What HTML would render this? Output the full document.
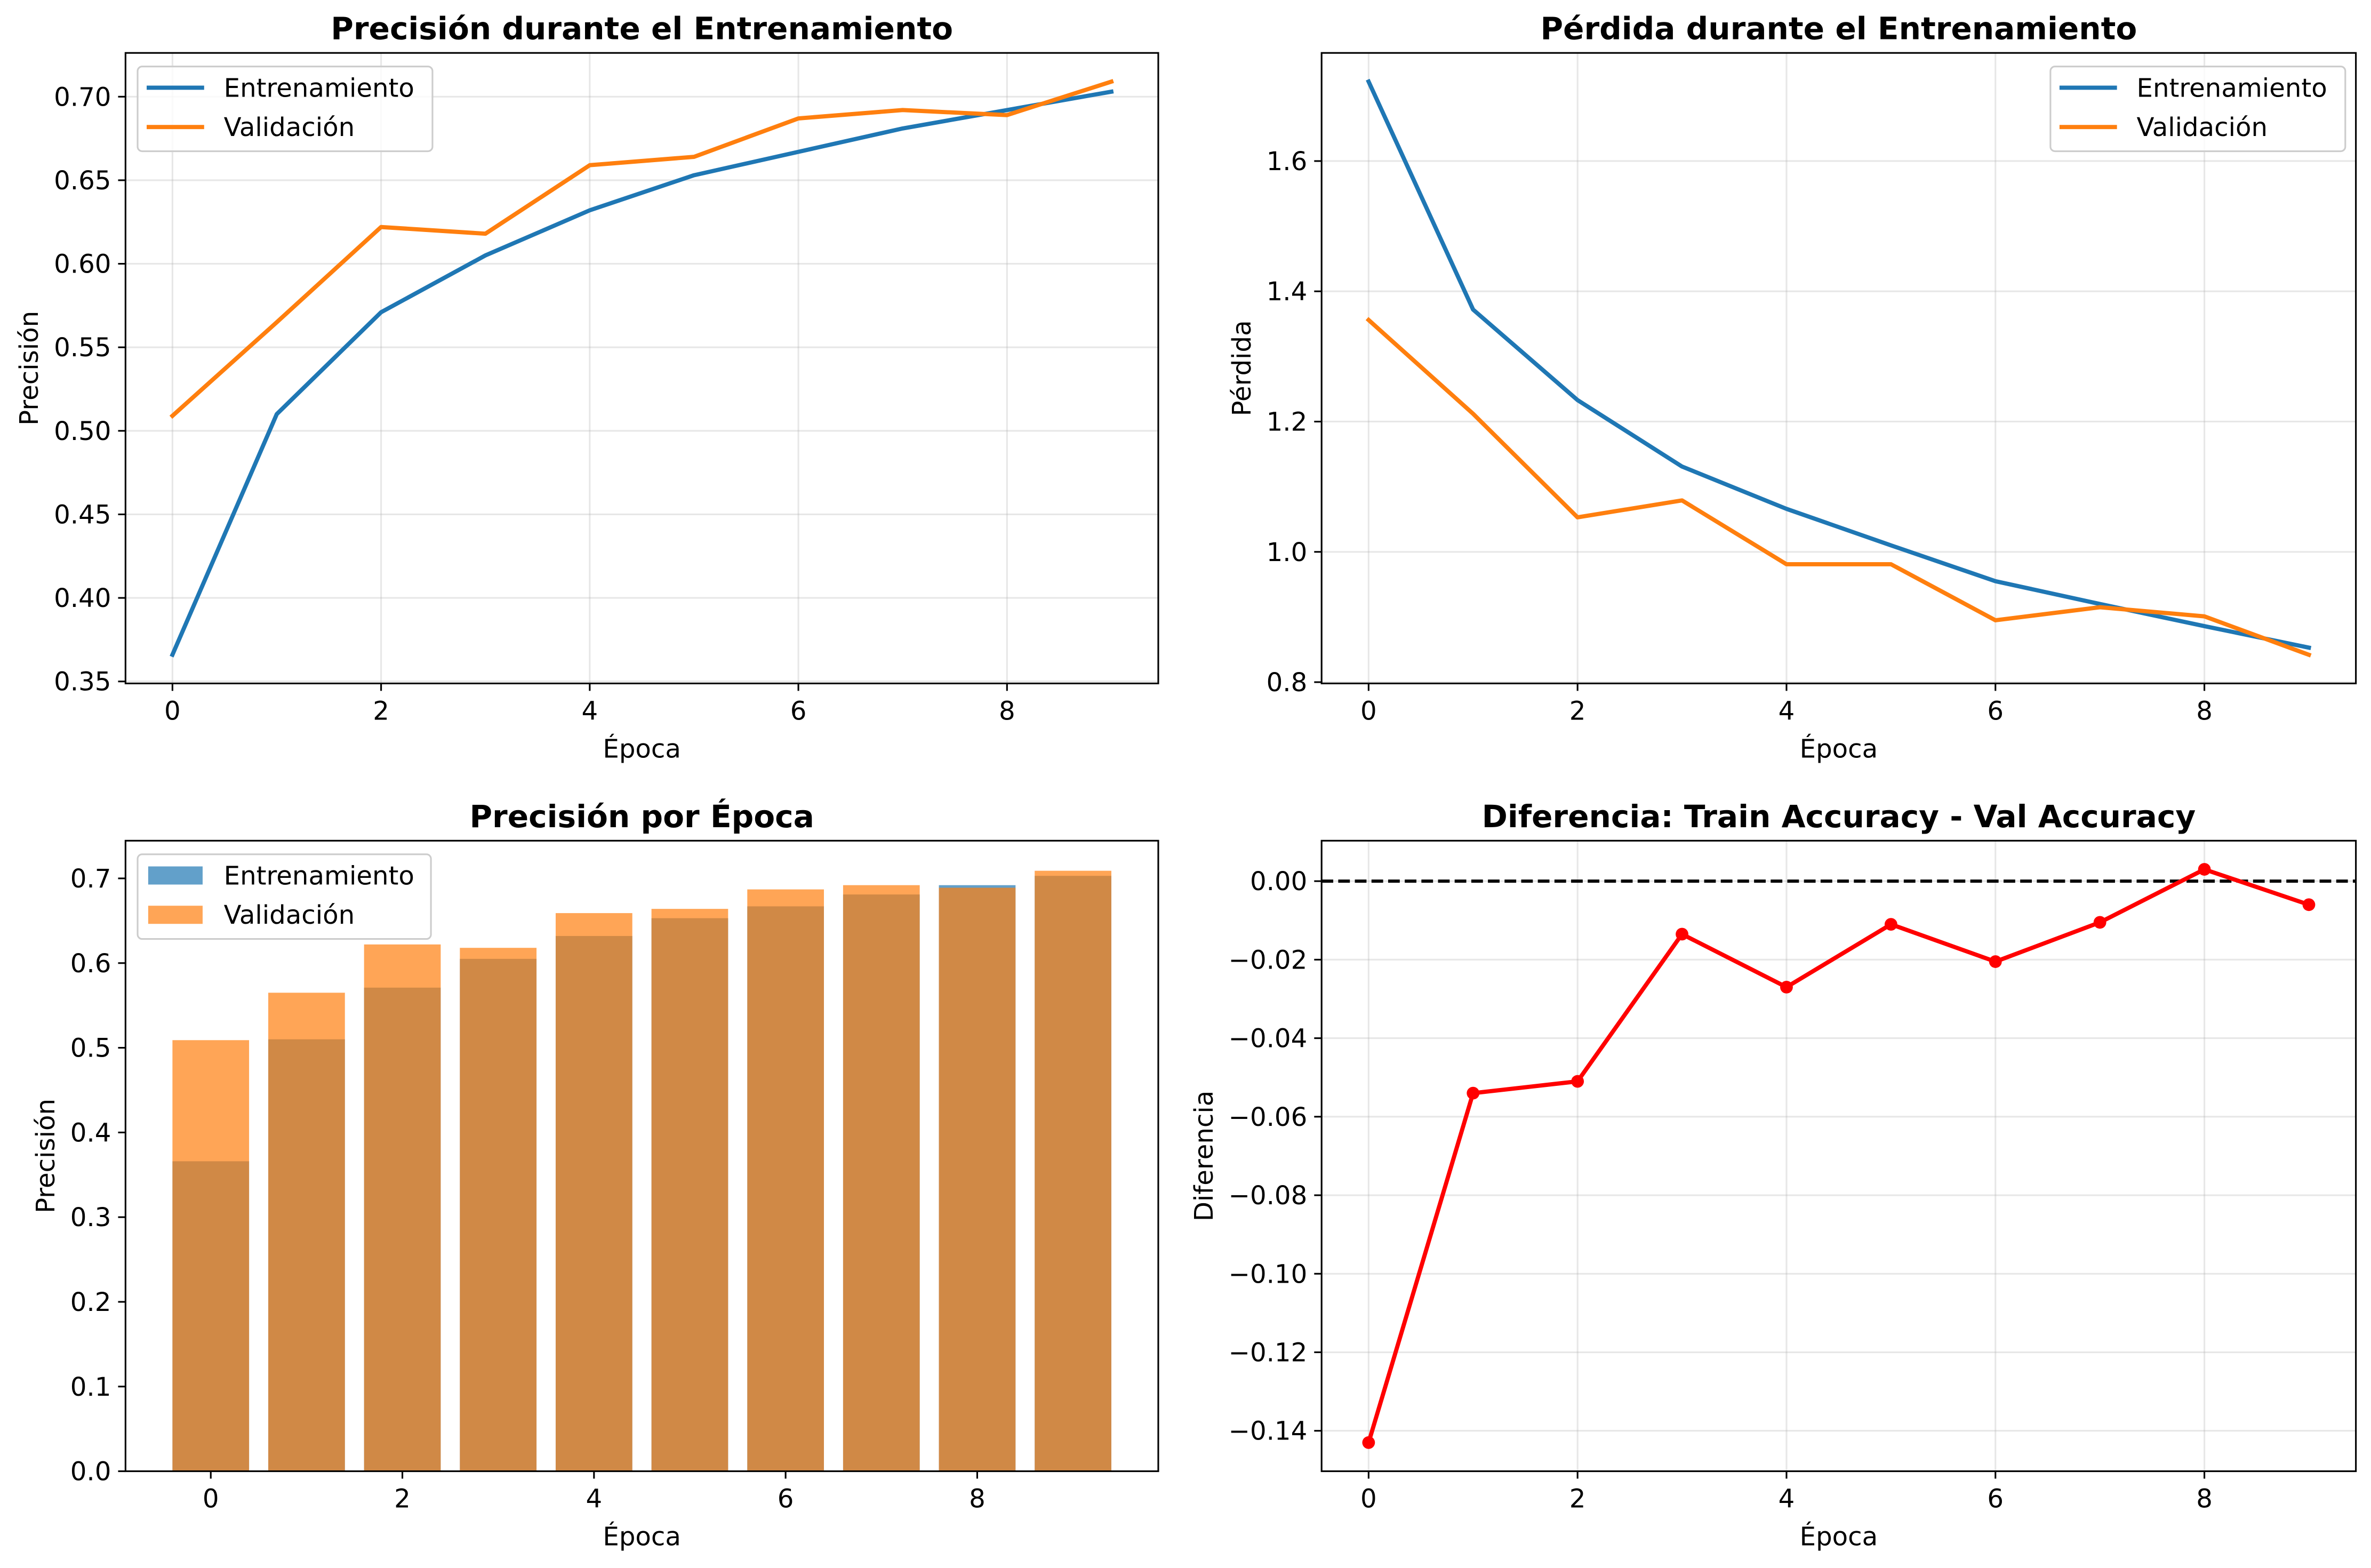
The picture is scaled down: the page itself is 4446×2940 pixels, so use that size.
<!DOCTYPE html>
<html><head><meta charset="utf-8"><style>
html,body{margin:0;padding:0;background:#fff;}
svg{display:block;}
text{font-family:"DejaVu Sans","Liberation Sans",sans-serif;fill:#000;}
</style></head><body>
<svg id="fig" width="4446" height="2940" viewBox="0 0 1568 1037" preserveAspectRatio="none" xmlns="http://www.w3.org/2000/svg">
<rect width="1568" height="1037" fill="#fff"/>
</svg>
<script>
const epochs = [0,1,2,3,4,5,6,7,8,9];
const trainAcc = [0.366,0.510,0.571,0.605,0.632,0.653,0.667,0.681,0.692,0.703];
const valAcc = [0.509,0.565,0.622,0.618,0.659,0.664,0.687,0.692,0.689,0.709];
const trainLoss = [1.722,1.372,1.233,1.131,1.066,1.010,0.955,0.920,0.886,0.853];
const valLoss = [1.356,1.212,1.053,1.079,0.981,0.981,0.895,0.915,0.901,0.842];
const diffAcc = [-0.143,-0.054,-0.051,-0.0135,-0.027,-0.011,-0.0205,-0.0105,0.003,-0.006];
const xTicks = [0,2,4,6,8];
const accTicks = [0.35,0.40,0.45,0.50,0.55,0.60,0.65,0.70];
const lossTicks = [0.8,1.0,1.2,1.4,1.6];
const barTicks = [0.0,0.1,0.2,0.3,0.4,0.5,0.6,0.7];
const diffTicks = [0.00,-0.02,-0.04,-0.06,-0.08,-0.10,-0.12,-0.14];

const NS='http://www.w3.org/2000/svg';
const svg=document.getElementById('fig');
const BLUE='#1f77b4', ORANGE='#ff7f0e';
const FS=17, TFS=20.5;
function mk(tag,attrs,parent){const e=document.createElementNS(NS,tag);for(const k in attrs)e.setAttribute(k,attrs[k]);(parent||svg).appendChild(e);return e;}
function txt(s,attrs,parent){const e=mk('text',attrs,parent);e.textContent=s;return e;}

function axes(cfg){
  const g=mk('g',{});
  
  
  const L=cfg.x0,R=cfg.x1,T=cfg.y0,B=cfg.y1;
  const sx=v=>L+(v-cfg.xmin)/(cfg.xmax-cfg.xmin)*(R-L);
  const sy=v=>B-(v-cfg.ymin)/(cfg.ymax-cfg.ymin)*(B-T);
  if(cfg.grid){
    xTicks.forEach(t=>{const l=mk('line',{x1:sx(t),x2:sx(t),y1:T,y2:B,stroke:'#b0b0b0','stroke-opacity':0.3,'stroke-width':1.1},g);
      
      });
    cfg.yTicks.forEach(t=>{const l=mk('line',{x1:L,x2:R,y1:sy(t),y2:sy(t),stroke:'#b0b0b0','stroke-opacity':0.3,'stroke-width':1.1},g);
      
      });
  }
  cfg.draw(g,sx,sy);
  const fr=mk('rect',{x:L,y:T,width:R-L,height:B-T,fill:'none',stroke:'#000','stroke-width':1.1},g);
  
  
  xTicks.forEach(t=>{
    mk('line',{x1:sx(t),x2:sx(t),y1:B,y2:B+4.9,stroke:'#000','stroke-width':1.1},g);
    const lb=txt(String(t),{x:sx(t),y:B+24,'font-size':FS,'text-anchor':'middle'},g);
    
    
  });
  cfg.yTicks.forEach((t,i)=>{
    mk('line',{x1:L-4.9,x2:L,y1:sy(t),y2:sy(t),stroke:'#000','stroke-width':1.1},g);
    const lb=txt(cfg.yLabels[i],{x:L-9.5,y:sy(t)+6,'font-size':FS,'text-anchor':'end'},g);
    
    
  });
  const title=txt(cfg.title,{x:(L+R)/2,y:T-9,'font-size':TFS,'font-weight':'bold','text-anchor':'middle'},g);
  
  
  const xl=txt('Época',{x:(L+R)/2,y:B+49,'font-size':FS,'text-anchor':'middle'},g);
  
  
  const yx=cfg.ylabX, yy=(T+B)/2;
  const yl=txt(cfg.ylabel,{x:yx,y:yy,'font-size':FS,'text-anchor':'middle',transform:`rotate(-90 ${yx} ${yy})`},g);
  
  
  return g;
}
function line(g,xs,ys,sx,sy,color,name){
  const p=mk('polyline',{points:xs.map((x,i)=>sx(x)+','+sy(ys[i])).join(' '),fill:'none',stroke:color,'stroke-width':2.78,'stroke-linejoin':'round','stroke-linecap':'square'},g);
  
  
  return p;
}
function legend(g,x,y,w,patch){
  const lg=mk('g',{},g);
  
  
  mk('rect',{x:x,y:y,width:w,height:56,rx:3,fill:'#fff','fill-opacity':0.8,stroke:'#cccccc','stroke-width':1.1},lg);
  [['Entrenamiento',BLUE,14],['Validación',ORANGE,40]].forEach(([s,c,dy])=>{
    const e=mk('g',{},lg);
    
    
    if(patch) mk('rect',{x:x+7,y:y+dy-6,width:36,height:12,fill:c,'fill-opacity':0.7},e);
    else mk('line',{x1:x+6,x2:x+44,y1:y+dy,y2:y+dy,stroke:c,'stroke-width':2.78},e);
    txt(s,{x:x+57,y:y+dy+6,'font-size':FS},e);
  });
}
const fmt2=v=>v.toFixed(2), fmt1=v=>v.toFixed(1);

axes({name:'accuracy-line-chart',x0:83,x1:766,y0:35,y1:452,xmin:-0.45,xmax:9.45,ymin:0.3488,ymax:0.7262,grid:true,
  yTicks:accTicks,yLabels:accTicks.map(fmt2),title:'Precisión durante el Entrenamiento',ylabel:'Precisión',ylabX:25,
  draw:(g,sx,sy)=>{line(g,epochs,trainAcc,sx,sy,BLUE,'train-accuracy-line');line(g,epochs,valAcc,sx,sy,ORANGE,'val-accuracy-line');legend(g,91,44,195,false);}});

axes({name:'loss-line-chart',x0:874,x1:1558,y0:35,y1:452,xmin:-0.45,xmax:9.45,ymin:0.798,ymax:1.766,grid:true,
  yTicks:lossTicks,yLabels:lossTicks.map(fmt1),title:'Pérdida durante el Entrenamiento',ylabel:'Pérdida',ylabX:827,
  draw:(g,sx,sy)=>{line(g,epochs,trainLoss,sx,sy,BLUE,'train-loss-line');line(g,epochs,valLoss,sx,sy,ORANGE,'val-loss-line');legend(g,1356,44,195,false);}});

axes({name:'accuracy-bar-chart',x0:83,x1:766,y0:556,y1:973,xmin:-0.89,xmax:9.89,ymin:0,ymax:0.7445,grid:false,
  yTicks:barTicks,yLabels:barTicks.map(fmt1),title:'Precisión por Época',ylabel:'Precisión',ylabX:36,
  draw:(g,sx,sy)=>{
    [[trainAcc,BLUE,'bar-train'],[valAcc,ORANGE,'bar-val']].forEach(([arr,c,n])=>{
      arr.forEach((v,i)=>{const r=mk('rect',{x:sx(epochs[i]-0.4),y:sy(v),width:sx(0.4)-sx(-0.4),height:sy(0)-sy(v),fill:c,'fill-opacity':0.7},g);
        
        });
    });
    legend(g,91,565,194,true);
  }});

axes({name:'accuracy-difference-chart',x0:874,x1:1558,y0:556,y1:973,xmin:-0.45,xmax:9.45,ymin:-0.1503,ymax:0.0103,grid:true,
  yTicks:diffTicks,yLabels:diffTicks.map(v=>v===0?'0.00':'\u2212'+Math.abs(v).toFixed(2)),title:'Diferencia: Train Accuracy - Val Accuracy',ylabel:'Diferencia',ylabX:802,
  draw:(g,sx,sy)=>{
    const z=mk('line',{x1:874,x2:1558,y1:sy(0),y2:sy(0),stroke:'#000','stroke-width':2.1,'stroke-dasharray':'7.7 3.3'},g);
    
    
    line(g,epochs,diffAcc,sx,sy,'#ff0000','difference-line');
    diffAcc.forEach((v,i)=>{const c=mk('circle',{cx:sx(epochs[i]),cy:sy(v),r:4.2,fill:'#ff0000'},g);
      
      });
  }});
</script>
</body></html>
